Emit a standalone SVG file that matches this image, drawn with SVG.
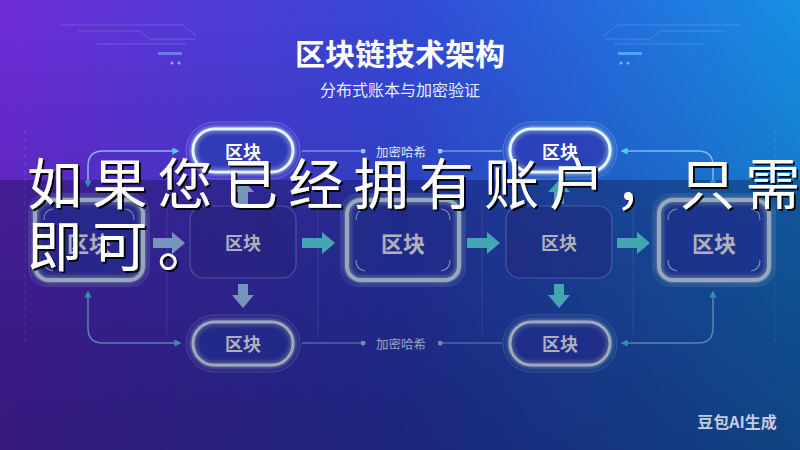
<svg xmlns="http://www.w3.org/2000/svg" width="800" height="450" viewBox="0 0 800 450">
<defs>
  <linearGradient id="bg" x1="0" y1="0" x2="1" y2="0">
    <stop offset="0" stop-color="#6e2cd8"/>
    <stop offset="0.5" stop-color="#3448d6"/>
    <stop offset="1" stop-color="#1690e4"/>
  </linearGradient>
  <linearGradient id="vshade" x1="0" y1="0" x2="0" y2="1">
    <stop offset="0" stop-color="#0a0a40" stop-opacity="0"/>
    <stop offset="1" stop-color="#0a0a40" stop-opacity="0.35"/>
  </linearGradient>
  <filter id="glow" x="-30%" y="-30%" width="160%" height="160%">
    <feGaussianBlur stdDeviation="2.5" result="b"/>
    <feMerge><feMergeNode in="b"/><feMergeNode in="SourceGraphic"/></feMerge>
  </filter>
  <filter id="shadow" x="-5%" y="-20%" width="110%" height="140%">
    <feDropShadow dx="2" dy="2" stdDeviation="0.6" flood-color="#000" flood-opacity="0.9"/>
  </filter>
  <marker id="ah" viewBox="0 0 10 10" refX="8" refY="5" markerWidth="7" markerHeight="7" markerUnits="userSpaceOnUse" orient="auto-start-reverse">
    <path d="M0,0 L10,5 L0,10 z" fill="#4cd0ec"/>
  </marker>
  <marker id="dot" viewBox="0 0 6 6" refX="3" refY="3" markerWidth="5" markerHeight="5" markerUnits="userSpaceOnUse">
    <circle cx="3" cy="3" r="3" fill="#9cc8ff"/>
  </marker>
  <style>
    .cjk{font-family:"Noto Sans CJK SC","Noto Sans",sans-serif}
    .ring{fill:none;stroke:#8fb8ff;stroke-opacity:.4;stroke-width:1}
    .pill{fill:#2a3cb4;fill-opacity:.55;stroke:#e2f6ff;stroke-width:3;filter:url(#glow)}
    .gnode{fill:#2a3cb4;fill-opacity:.45;stroke:#d8f4ff;stroke-width:4;filter:url(#glow)}
    .pnode{fill:#30309a;fill-opacity:.4;stroke:#9aa8f0;stroke-opacity:.55;stroke-width:1.2}
    .tick{fill:none;stroke:#d0eeff;stroke-width:1.2;stroke-opacity:.8}
    .lbl{font-weight:700;fill:#fff;text-anchor:middle;dominant-baseline:central}
    .hash{font-size:12.5px;fill:#dce6ff;text-anchor:middle;dominant-baseline:central}
    .conn{fill:none;stroke:#84b8f4;stroke-width:1.5}
    .hl{fill:none;stroke:#8ac0f8;stroke-width:1.2}
    .faint{fill:none;stroke:#9ab0ff;stroke-opacity:.25;stroke-width:1}
    .deco{fill:none;stroke:#a8c0ff;stroke-opacity:.28;stroke-width:1}
    .bar1{fill:#a8d8ff}
    .bar2{fill:#5ff0f0}
  </style>
</defs>

<rect width="800" height="450" fill="url(#bg)"/>
<rect width="800" height="450" fill="url(#vshade)"/>

<g id="header-deco">
  <path class="deco" d="M60,25 H183 L196,36 M78,31 H140 L150,39 H196 M96,44 H186"/>
  <path class="deco" d="M130,41 H180" stroke-dasharray="1.5 2.5"/>
  <rect x="158" y="52" width="24" height="3" fill="#7fa8ff" opacity=".6"/>
  <circle cx="172" cy="63" r="1.5" fill="#a0c0ff" opacity=".8"/>
  <circle cx="179" cy="63" r="1.5" fill="#a0c0ff" opacity=".8"/>
  <path class="deco" d="M740,25 H617 L604,36 M722,31 H660 L650,39 H604 M704,44 H614"/>
  <path class="deco" d="M620,41 H670" stroke-dasharray="1.5 2.5"/>
  <rect x="618" y="52" width="24" height="3" fill="#4cb8ff" opacity=".8"/>
  <circle cx="621" cy="63" r="1.5" fill="#7fd0ff" opacity=".8"/>
  <circle cx="628" cy="63" r="1.5" fill="#7fd0ff" opacity=".8"/>
</g>

<g id="title">
  <text class="cjk" x="400" y="52" font-size="30" font-weight="700" fill="#ffffff" text-anchor="middle" dominant-baseline="central">区块链技术架构</text>
  <text class="cjk" x="400" y="89" font-size="16" fill="#e4ecff" text-anchor="middle" dominant-baseline="central">分布式账本与加密验证</text>
</g>

<g id="frames">
  <path class="faint" d="M25,130 V345 M775,130 V345" stroke-dasharray="4 4"/>
  <path class="faint" d="M167,200 V335 M318,200 V335 M482,200 V335 M633,200 V335 M167,206 H190 M296,206 H318 M483,206 H506 M612,206 H633"/>
</g>

<g id="connectors">
  <path class="conn" d="M88,186 V166 Q88,151 103,151 H178" marker-start="url(#ah)" marker-end="url(#ah)"/>
  <path class="conn" d="M713,186 V166 Q713,151 698,151 H622" marker-start="url(#ah)" marker-end="url(#ah)"/>
  <path class="conn" d="M88,292 V328 Q88,343 103,343 H180" marker-start="url(#ah)" marker-end="url(#ah)"/>
  <path class="conn" d="M713,292 V328 Q713,343 698,343 H622" marker-start="url(#ah)" marker-end="url(#ah)"/>
  <path class="hl" d="M302,151 H363" marker-end="url(#dot)"/>
  <path class="hl" d="M440,151 H502" marker-start="url(#dot)"/>
  <path class="hl" d="M302,343 H363" marker-end="url(#dot)"/>
  <path class="hl" d="M440,343 H502" marker-start="url(#dot)"/>
  <path class="bar1" d="M153,238 H172 V232 L185,243 L172,254 V248 H153 Z"/>
  <path class="bar2" d="M302,238 H322 V232 L335,243 L322,254 V248 H302 Z"/>
  <path class="bar2" d="M467,238 H487 V232 L500,243 L487,254 V248 H467 Z"/>
  <path class="bar2" d="M617,238 H637 V232 L650,243 L637,254 V248 H617 Z"/>
  <path class="bar1" d="M238,204 V192 H232 L243,180 L254,192 H248 V204 Z"/>
  <path class="bar2" d="M554,204 V192 H548 L559,180 L570,192 H564 V204 Z"/>
  <path class="bar1" d="M238,284 V295 H232 L243,308 L254,295 H248 V284 Z"/>
  <path class="bar2" d="M554,284 V295 H548 L559,308 L570,295 H564 V284 Z"/>
</g>

<g id="label-hash-top"><text class="cjk hash" x="401" y="151">加密哈希</text></g>
<g id="label-hash-bottom"><text class="cjk hash" x="401" y="343">加密哈希</text></g>

<g id="node-top-left">
  <rect class="ring" x="186" y="122" width="114" height="57" rx="28.5"/>
  <rect class="pill" x="193" y="129" width="100" height="43" rx="21.5"/>
  <text class="cjk lbl" x="243" y="151" font-size="18">区块</text>
</g>
<g id="node-top-right">
  <rect class="ring" x="503" y="122" width="114" height="57" rx="28.5"/>
  <rect class="pill" x="510" y="129" width="100" height="43" rx="21.5"/>
  <text class="cjk lbl" x="560" y="151" font-size="18">区块</text>
</g>
<g id="node-bottom-left">
  <rect class="ring" x="186" y="315" width="114" height="57" rx="28.5"/>
  <rect class="pill" x="193" y="322" width="100" height="43" rx="21.5"/>
  <text class="cjk lbl" x="243" y="343" font-size="18">区块</text>
</g>
<g id="node-bottom-right">
  <rect class="ring" x="503" y="315" width="114" height="57" rx="28.5"/>
  <rect class="pill" x="510" y="322" width="100" height="43" rx="21.5"/>
  <text class="cjk lbl" x="560" y="343" font-size="18">区块</text>
</g>

<g id="node-mid-1">
  <rect class="ring" x="29" y="194" width="120" height="92" rx="18"/>
  <rect class="gnode" x="35" y="200" width="108" height="80" rx="14"/>
  <path class="tick" d="M44,220 Q44,210 53,209 M125,209 Q134,210 134,220 M134,260 Q134,270 125,271 M53,271 Q44,270 44,260"/>
  <text class="cjk lbl" x="89" y="242" font-size="22">区块</text>
</g>
<g id="node-mid-2">
  <rect class="pnode" x="190" y="206" width="106" height="72" rx="14"/>
  <text class="cjk lbl" x="243" y="242" font-size="18">区块</text>
</g>
<g id="node-mid-3">
  <rect class="ring" x="341" y="194" width="124" height="92" rx="18"/>
  <rect class="gnode" x="347" y="200" width="112" height="80" rx="14"/>
  <path class="tick" d="M356,220 Q356,210 365,209 M441,209 Q450,210 450,220 M450,260 Q450,270 441,271 M365,271 Q356,270 356,260"/>
  <text class="cjk lbl" x="403" y="242" font-size="22">区块</text>
</g>
<g id="node-mid-4">
  <rect class="pnode" x="506" y="206" width="106" height="72" rx="14"/>
  <text class="cjk lbl" x="559" y="242" font-size="18">区块</text>
</g>
<g id="node-mid-5">
  <rect class="ring" x="653" y="194" width="122" height="92" rx="18"/>
  <rect class="gnode" x="659" y="200" width="110" height="80" rx="14"/>
  <path class="tick" d="M668,220 Q668,210 677,209 M751,209 Q760,210 760,220 M760,260 Q760,270 751,271 M677,271 Q668,270 668,260"/>
  <text class="cjk lbl" x="714" y="242" font-size="22">区块</text>
</g>

<rect id="dim-band" x="0" y="180" width="800" height="270" fill="#0a0a30" opacity="0.32"/>

<g id="watermark">
  <text class="cjk" x="737" y="421" font-size="16" font-weight="700" fill="#c4cce0" text-anchor="middle" dominant-baseline="central">豆包AI生成</text>
</g>

<g id="overlay-text" filter="url(#shadow)">
  <text class="cjk" x="27" y="204" font-size="55" letter-spacing="10.3" fill="#ffffff">如果您已经拥有账户，只需登</text>
  <text class="cjk" x="27" y="266" font-size="55" letter-spacing="10.3" fill="#ffffff">即可。</text>
</g>
</svg>
